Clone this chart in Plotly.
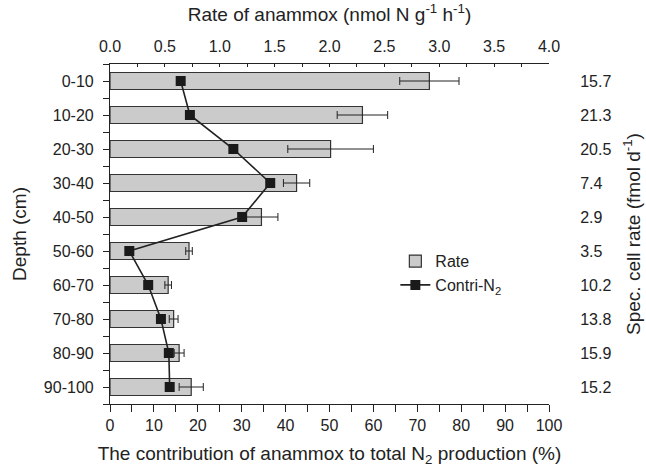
import plotly.graph_objects as go

depths = ["0-10", "10-20", "20-30", "30-40", "40-50", "50-60", "60-70", "70-80", "80-90", "90-100"]
rate = [2.91, 2.30, 2.01, 1.70, 1.38, 0.72, 0.53, 0.58, 0.63, 0.74]
rate_err = [0.27, 0.23, 0.39, 0.12, 0.15, 0.03, 0.03, 0.04, 0.045, 0.11]
contrib = [16.1, 18.2, 28.1, 36.5, 30.1, 4.4, 8.7, 11.6, 13.4, 13.6]
spec_rate = ["15.7", "21.3", "20.5", "7.4", "2.9", "3.5", "10.2", "13.8", "15.9", "15.2"]

ypos = list(range(len(depths)))
FONT = "Liberation Sans, Arial, Helvetica, sans-serif"
INK = "#222222"

fig = go.Figure()

fig.add_trace(go.Bar(
    x=rate, y=ypos, orientation="h", name="Rate",
    xaxis="x", yaxis="y", width=0.5,
    marker=dict(color="#cbcbcb", line=dict(color="#333333", width=1.2)),
    error_x=dict(type="data", array=rate_err, color=INK, thickness=1, width=4),
))

fig.add_trace(go.Scatter(
    x=contrib, y=ypos, mode="lines+markers", name="Contri-N<sub>2</sub>",
    xaxis="x2", yaxis="y",
    line=dict(color=INK, width=1.6),
    marker=dict(symbol="square", size=10, color="#1a1a1a"),
))

# invisible trace to anchor the right-hand axis
fig.add_trace(go.Scatter(
    x=[None], y=[None], xaxis="x", yaxis="y2", showlegend=False, hoverinfo="skip",
))

fig.update_layout(
    width=646, height=473,
    margin=dict(l=110, r=97, t=64, b=69),
    paper_bgcolor="white", plot_bgcolor="white",
    font=dict(family=FONT, size=16, color=INK),
    barmode="overlay",
    showlegend=True,
    legend=dict(x=0.65, y=0.47, xanchor="left", yanchor="top",
                bgcolor="rgba(0,0,0,0)", font=dict(size=16), tracegroupgap=4),
    xaxis=dict(
        side="top", range=[0, 4], dtick=0.5, tick0=0, tickformat=".1f",
        showline=True, linecolor=INK, linewidth=1.2, mirror=False,
        ticks="inside", ticklen=3, tickcolor=INK, tickwidth=1,
        minor=dict(dtick=0.25, ticks="inside", ticklen=3, tickcolor=INK),
        ticklabelstandoff=5, automargin=False,
        showgrid=False, zeroline=False,
        title=dict(text="Rate of anammox (nmol N g<sup>-1</sup> h<sup>-1</sup>)", standoff=10),
    ),
    xaxis2=dict(
        side="bottom", overlaying="x", anchor="y", range=[0, 100], dtick=10, tick0=0,
        showline=True, linecolor=INK, linewidth=1.2,
        ticks="outside", ticklen=7, tickcolor=INK, tickwidth=1,
        minor=dict(dtick=5, ticks="outside", ticklen=7, tickcolor=INK),
        automargin=False,
        showgrid=False, zeroline=False,
        title=dict(text="The contribution of anammox to total N<sub>2</sub> production (%)", standoff=13),
    ),
    yaxis=dict(
        range=[9.5, -0.5], tickvals=ypos, ticktext=depths,
        showline=True, linecolor=INK, linewidth=1.2,
        ticks="outside", ticklen=6, tickcolor=INK, tickwidth=1,
        minor=dict(tickvals=[i + 0.5 for i in range(-1, len(depths))], ticks="outside", ticklen=6, tickcolor=INK),
        ticklabelstandoff=6, automargin=False,
        showgrid=False, zeroline=False,
        title=dict(text="Depth (cm)", standoff=12),
    ),
    yaxis2=dict(
        overlaying="y", side="right", anchor="x", range=[9.5, -0.5],
        tickvals=ypos, ticktext=spec_rate,
        showline=False, ticks="outside", ticklen=27, tickcolor="rgba(0,0,0,0)",
        automargin=False,
        showgrid=False, zeroline=False,
        title=dict(text="Spec. cell rate (fmol d<sup>-1</sup>)", standoff=16),
    ),
)

fig.write_html("out.html")
